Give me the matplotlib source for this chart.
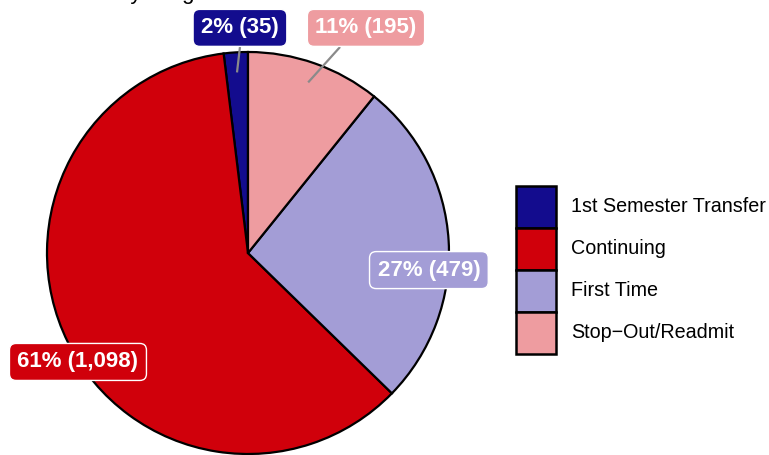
import numpy as np
import matplotlib.pyplot as plt
from matplotlib.patches import Rectangle

plt.rcParams['font.family'] = ['Liberation Sans', 'DejaVu Sans']

# data
categories = ['1st Semester Transfer', 'Continuing', 'First Time', 'Stop\u2212Out/Readmit']
counts = [35, 1098, 479, 195]
colors = ['#130C8E', '#D0000B', '#A39DD6', '#EE9CA0']
label_text = ['2% (35)', '61% (1,098)', '27% (479)', '11% (195)']
# where the repelled labels ended up (pie units)
label_x = [-0.04, -0.846, 0.90, 0.587]
label_y = [1.12, -0.542, -0.085, 1.12]
# leader segment end (at the label box edge), None = no segment
leader_end = [(-0.04, 1.025), None, None, (0.458, 1.025)]

W, H = 769, 455
fig = plt.figure(figsize=(W / 100, H / 100), dpi=100)
ax = fig.add_axes([0, 0, 1, 1])

cx, cy, r = 248, 253, 201  # pie centre / radius in pixels

wedges, _ = ax.pie(counts, colors=colors, startangle=90, counterclock=True,
                   radius=1, wedgeprops=dict(edgecolor='black', linewidth=1.6))
for w in wedges:
    w.set_clip_on(False)
ax.set_xlim(-cx / r, (W - cx) / r)
ax.set_ylim((cy - H) / r, cy / r)
ax.set_aspect('equal')
ax.axis('off')

# mid angle of each slice, anchor at 0.9 radius
frac = np.array(counts) / sum(counts)
mid = 90 + 360 * (np.cumsum(frac) - frac / 2)
ax_x = 0.9 * np.cos(np.radians(mid))
ax_y = 0.9 * np.sin(np.radians(mid))

for i in range(len(counts)):
    if leader_end[i] is not None:
        ex, ey = leader_end[i]
        ax.plot([ax_x[i], ex], [ax_y[i], ey],
                color='#8a8a8a', lw=1.6, solid_capstyle='butt', zorder=3)
    ax.text(label_x[i], label_y[i], label_text[i], color='white', fontsize=16,
            fontweight='bold', ha='center', va='center', zorder=4,
            bbox=dict(boxstyle='round,pad=0.36,rounding_size=0.3',
                      facecolor=colors[i], edgecolor='white', linewidth=1))

# legend drawn in pixel space
lg = fig.add_axes([0, 0, 1, 1], facecolor='none')
lg.set_xlim(0, W)
lg.set_ylim(H, 0)
lg.axis('off')
key_w, key_h = 40, 42
top = 186
for i, (c, name) in enumerate(zip(colors, categories)):
    y0 = top + i * key_h
    lg.add_patch(Rectangle((516, y0), key_w, key_h, facecolor=c,
                           edgecolor='black', linewidth=1.8))
    lg.text(571, y0 + key_h / 2, name, fontsize=14.2, ha='left', va='center')

# title is cut off at the top edge, only descenders show
fig.text(4 / W, 1 + 1.5 / H, 'Headcount by Program', fontsize=16,
         ha='left', va='baseline')

fig.savefig('out.png', dpi=100)
